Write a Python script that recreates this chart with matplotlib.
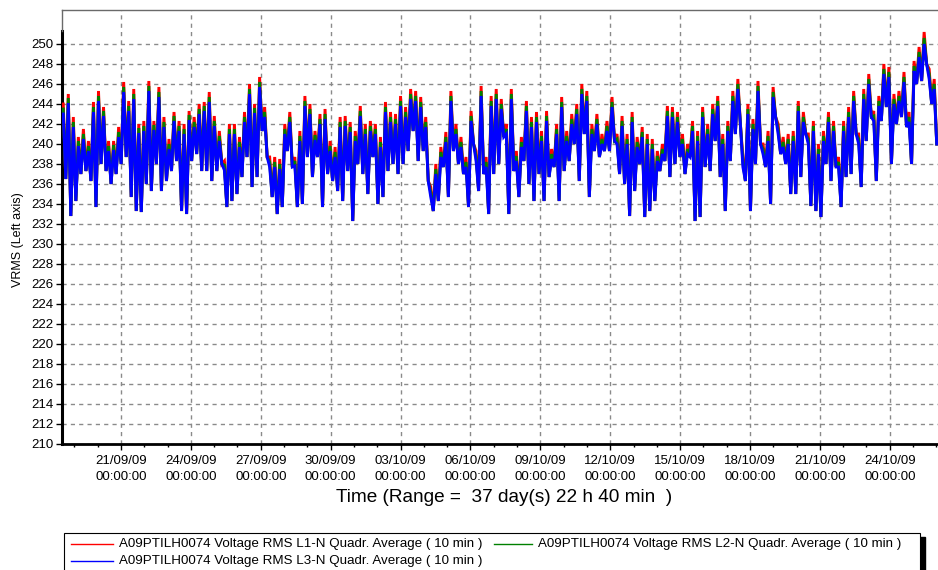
import datetime as dt
import numpy as np
import matplotlib
matplotlib.use("Agg")
import matplotlib.pyplot as plt
import matplotlib.dates as mdates
from matplotlib.patches import Rectangle
from matplotlib.lines import Line2D

plt.rcParams['font.family'] = ['Liberation Sans', 'DejaVu Sans']

# ---------------- data ----------------
series_names = [
    "A09PTILH0074 Voltage RMS L1-N Quadr. Average ( 10 min )",
    "A09PTILH0074 Voltage RMS L2-N Quadr. Average ( 10 min )",
    "A09PTILH0074 Voltage RMS L3-N Quadr. Average ( 10 min )",
]
series_colors = ["#FF0000", "#008000", "#0000FF"]

start_time = dt.datetime(2009, 9, 18, 11, 14)
range_days = 37 + 22 / 24 + 40 / 1440          # 37 day(s) 22 h 40 min
shown_days = 37.60                             # part of the range visible in the picture

# envelope per column: upper values for each phase, common lower value
l1_high = [
    244.0, 245.0, 242.7, 240.7, 241.5, 240.3, 244.2, 245.3, 243.7, 240.3, 240.3, 241.7, 246.2, 244.3, 245.5,
    242.0, 242.3, 246.3, 242.3, 245.7, 242.7, 240.5, 243.2, 242.3, 242.0, 243.3, 242.7, 244.0, 244.2,
    245.2, 242.8, 241.3, 238.3, 242.0, 242.0, 240.7, 243.2, 246.0, 244.0, 246.7, 243.7, 238.7, 238.7, 238.5,
    242.0, 243.2, 238.7, 241.3, 244.8, 244.0, 241.3, 243.0, 243.5, 240.3, 239.7, 242.7, 242.8, 242.2,
    241.3, 243.8, 242.0, 242.3, 242.0, 240.7, 244.2, 243.2, 243.0, 244.8, 243.7, 245.5, 245.3, 244.7, 242.7,
    235.7, 238.0, 239.7, 241.2, 245.3, 242.0, 240.7, 238.7, 243.3, 239.3, 245.8, 238.7, 244.8, 245.5,
    244.5, 242.0, 245.5, 239.3, 240.7, 244.3, 242.7, 243.2, 241.3, 243.3, 239.5, 242.0, 244.7, 241.3, 243.0,
    244.0, 246.0, 245.3, 242.0, 243.0, 241.0, 242.3, 244.7, 241.0, 242.8, 241.0, 243.2, 240.7, 241.7,
    241.0, 240.5, 239.3, 240.0, 243.8, 243.7, 243.2, 241.0, 240.0, 242.3, 241.3, 243.7, 242.0, 244.0, 244.8,
    241.0, 242.3, 245.3, 246.5, 238.7, 244.0, 242.5, 246.3, 240.0, 241.3, 245.7, 242.0, 240.7, 241.0,
    241.3, 244.3, 243.2, 241.0, 242.3, 240.0, 241.3, 243.2, 242.3, 238.7, 242.3, 243.7, 245.3, 241.0, 245.5,
    247.0, 243.3, 244.8, 248.0, 247.7, 245.0, 245.3, 247.2, 243.2, 248.3, 249.7, 251.2, 247.5, 246.5,
]
l2_high = [
    243.5, 244.6, 242.2, 240.3, 241.0, 239.8, 243.7, 244.8, 243.3, 239.8, 239.9, 241.2, 245.7, 243.8, 245.0,
    241.6, 241.8, 245.8, 241.9, 245.2, 242.2, 240.0, 242.8, 241.8, 241.5, 242.9, 242.2, 243.5, 243.8,
    244.7, 242.3, 240.8, 237.9, 241.5, 241.5, 240.2, 242.7, 245.5, 243.6, 246.2, 243.2, 238.2, 238.2, 238.0,
    241.5, 242.7, 238.3, 240.8, 244.3, 243.5, 240.9, 242.5, 243.0, 239.8, 239.2, 242.2, 242.3, 241.7,
    240.8, 243.3, 241.5, 241.8, 241.5, 240.2, 243.7, 242.7, 242.5, 244.3, 243.2, 245.0, 244.8, 244.2, 242.2,
    235.2, 237.5, 239.2, 240.7, 244.8, 241.5, 240.2, 238.2, 242.8, 238.8, 245.3, 238.2, 244.3, 245.0,
    244.0, 241.5, 245.0, 238.8, 240.2, 243.8, 242.2, 242.7, 240.8, 242.8, 239.0, 241.5, 244.2, 240.8, 242.5,
    243.5, 245.5, 244.8, 241.5, 242.5, 240.5, 241.8, 244.2, 240.5, 242.3, 240.5, 242.7, 240.2, 241.2,
    240.5, 240.0, 238.8, 239.5, 243.3, 243.2, 242.7, 240.5, 239.5, 241.8, 240.8, 243.2, 241.5, 243.5, 244.3,
    240.5, 241.8, 244.8, 246.0, 238.2, 243.5, 242.0, 245.8, 239.5, 240.8, 245.2, 241.5, 240.2, 240.5,
    240.8, 243.8, 242.7, 240.5, 241.8, 239.5, 240.8, 242.7, 241.8, 238.2, 241.8, 243.2, 244.8, 240.5, 245.0,
    246.5, 242.8, 244.3, 247.5, 247.2, 244.5, 244.8, 246.7, 242.7, 247.8, 249.2, 250.6, 247.0, 246.0,
]
l3_high = [
    243.0, 244.1, 241.7, 239.8, 240.5, 239.3, 243.2, 244.3, 242.8, 239.3, 239.4, 240.7, 245.2, 243.3, 244.5,
    241.1, 241.3, 245.3, 241.4, 244.7, 241.7, 239.5, 242.3, 241.3, 241.0, 242.4, 241.7, 243.0, 243.3,
    244.2, 241.8, 240.3, 237.4, 241.0, 241.0, 239.7, 242.2, 245.0, 243.1, 245.7, 242.7, 237.7, 237.7, 237.5,
    241.0, 242.2, 237.8, 240.3, 243.8, 243.0, 240.4, 242.0, 242.5, 239.3, 238.7, 241.7, 241.8, 241.2,
    240.3, 242.8, 241.0, 241.3, 241.0, 239.7, 243.2, 242.2, 242.0, 243.8, 242.7, 244.5, 244.3, 243.7, 241.7,
    234.7, 237.0, 238.7, 240.2, 244.3, 241.0, 239.7, 237.7, 242.3, 238.3, 244.8, 237.7, 243.8, 244.5,
    243.5, 241.0, 244.5, 238.3, 239.7, 243.3, 241.7, 242.2, 240.3, 242.3, 238.5, 241.0, 243.7, 240.3, 242.0,
    243.0, 245.0, 244.3, 241.0, 242.0, 240.0, 241.3, 243.7, 240.0, 241.8, 240.0, 242.2, 239.7, 240.7,
    240.0, 239.5, 238.3, 239.0, 242.8, 242.7, 242.2, 240.0, 239.0, 241.3, 240.3, 242.7, 241.0, 243.0, 243.8,
    240.0, 241.3, 244.3, 245.5, 237.7, 243.0, 241.5, 245.3, 239.0, 240.3, 244.7, 241.0, 239.7, 240.0,
    240.3, 243.3, 242.2, 240.0, 241.3, 239.0, 240.3, 242.2, 241.3, 237.7, 241.3, 242.7, 244.3, 240.0, 244.5,
    246.0, 242.3, 243.8, 247.0, 246.7, 244.0, 244.3, 246.2, 242.2, 247.3, 248.7, 250.0, 246.5, 245.5,
]
low_values = [
    236.5, 232.8, 234.3, 237.0, 237.3, 236.3, 233.7, 238.0, 237.3, 236.0, 237.0, 238.0, 238.7, 234.7, 233.3,
    233.2, 236.0, 235.3, 238.0, 235.3, 236.3, 237.3, 238.3, 233.3, 233.0, 238.3, 239.0, 237.3, 237.3,
    236.3, 237.3, 238.0, 233.7, 234.3, 235.0, 236.7, 238.7, 235.7, 236.7, 241.3, 238.7, 234.7, 233.0, 233.7,
    239.3, 237.7, 233.7, 234.0, 238.7, 236.7, 238.7, 233.7, 237.0, 236.3, 235.3, 234.3, 237.3, 232.3,
    238.0, 237.0, 235.0, 238.7, 234.0, 234.7, 237.3, 238.0, 237.0, 238.0, 239.3, 241.3, 238.3, 239.3, 236.3,
    233.3, 234.3, 237.7, 234.7, 239.3, 238.0, 237.0, 233.7, 240.0, 235.3, 237.0, 233.0, 237.0, 238.0,
    240.7, 233.0, 237.3, 234.7, 238.3, 236.0, 234.3, 237.0, 234.3, 236.7, 237.7, 234.3, 237.3, 238.3, 240.0,
    236.3, 241.0, 234.7, 239.3, 238.7, 239.3, 239.3, 240.3, 237.0, 236.0, 232.8, 235.3, 238.0, 232.7,
    233.3, 234.3, 237.3, 238.3, 236.7, 238.0, 238.7, 237.0, 238.7, 232.3, 232.7, 237.7, 237.3, 240.3, 236.7,
    233.3, 238.3, 241.0, 242.0, 236.3, 233.3, 238.0, 240.0, 237.7, 234.0, 242.7, 239.0, 238.0, 235.0,
    235.0, 236.7, 241.0, 233.8, 233.3, 232.7, 238.0, 236.3, 237.7, 233.7, 236.7, 237.0, 241.0, 235.7, 240.3,
    242.7, 236.3, 242.3, 243.7, 238.0, 242.0, 242.7, 241.7, 238.0, 246.0, 246.3, 248.0, 244.0, 240.0,
]

y_ticks = list(range(210, 251, 2))
first_tick = dt.datetime(2009, 9, 21)
tick_step_days = 3
n_major = 12

# ---------------- figure ----------------
W, H = 938, 570
fig = plt.figure(figsize=(W / 100, H / 100), dpi=100)
ax = fig.add_axes([62 / W, (H - 444) / H, 884 / W, 434 / H])

t0 = mdates.date2num(start_time)
n = len(low_values)
step = shown_days / n
idx = np.arange(n)
t = np.empty(2 * n)
t[0::2] = t0 + (idx + 0.25) * step
t[1::2] = t0 + (idx + 0.75) * step

for highs, color in zip([l1_high, l2_high, l3_high], series_colors):
    y = np.empty(2 * n)
    y[0::2] = highs
    y[1::2] = low_values
    ax.plot(t, y, color=color, lw=2.1, solid_joinstyle='miter', zorder=3)

ax.set_xlim(t0, t0 + range_days)
ax.set_ylim(210, 253.4)

ax.set_yticks(y_ticks)
major = [mdates.date2num(first_tick + dt.timedelta(days=tick_step_days * k)) for k in range(n_major)]
ax.set_xticks(major)
ax.xaxis.set_major_formatter(mdates.DateFormatter('%d/%m/%y\n%H:%M:%S'))
ax.xaxis.set_minor_locator(mdates.DayLocator())

ax.grid(True, which='major', color='#8a8a8a', linestyle=(0, (3, 3)), lw=1.0)
ax.set_axisbelow(True)

ax.tick_params(axis='y', direction='out', length=4, width=1, labelsize=9.5, pad=2)
ax.tick_params(axis='x', which='major', direction='out', length=4, width=1, labelsize=9.5, pad=4)
ax.tick_params(axis='x', which='minor', direction='out', length=2, width=1)
for lab in ax.get_xticklabels():
    lab.set_linespacing(1.45)

ax.spines['top'].set_color('#6a6a6a')
ax.spines['top'].set_linewidth(1.0)
ax.spines['right'].set_visible(False)
ax.spines['bottom'].set_color('black')
ax.spines['bottom'].set_linewidth(2.0)
ax.spines['left'].set_color('black')
ax.spines['left'].set_linewidth(2.2)
ax.spines['left'].set_bounds(210, 251.3)
ax.plot([0, 0], [(251.3 - 210) / 43.4, 1], transform=ax.transAxes,
        color='#6a6a6a', lw=1.0, clip_on=False, zorder=5)

ax.set_xlabel('Time (Range =  37 day(s) 22 h 40 min  )', fontsize=13.7, labelpad=4)
fig.text(18 / W, 1 - 240 / H, 'VRMS (Left axis)', rotation=90, fontsize=9,
         ha='center', va='center')

# ---------------- legend (drawn as figure artists) ----------------
fig.patches.append(Rectangle((920 / W, -0.05), 5 / W, (570 - 537) / H + 0.05,
                             transform=fig.transFigure, color='black', zorder=1))
fig.patches.append(Rectangle((64 / W, -0.05), (920 - 64) / W, (570 - 533) / H + 0.05,
                             transform=fig.transFigure, fill=True, fc='white',
                             ec='black', lw=0.8, zorder=2))
entries = [(71, 113, 119, 544), (494, 532, 538, 544), (71, 113, 119, 561)]
for k, (xa, xb, xt, yy) in enumerate(entries):
    fig.add_artist(Line2D([xa / W, xb / W], [1 - yy / H] * 2, color=series_colors[k], lw=1.0,
                          transform=fig.transFigure, zorder=3))
    fig.text(xt / W, 1 - yy / H, series_names[k], fontsize=9.6, va='center', ha='left', zorder=3)

fig.savefig('out.png', dpi=100)
